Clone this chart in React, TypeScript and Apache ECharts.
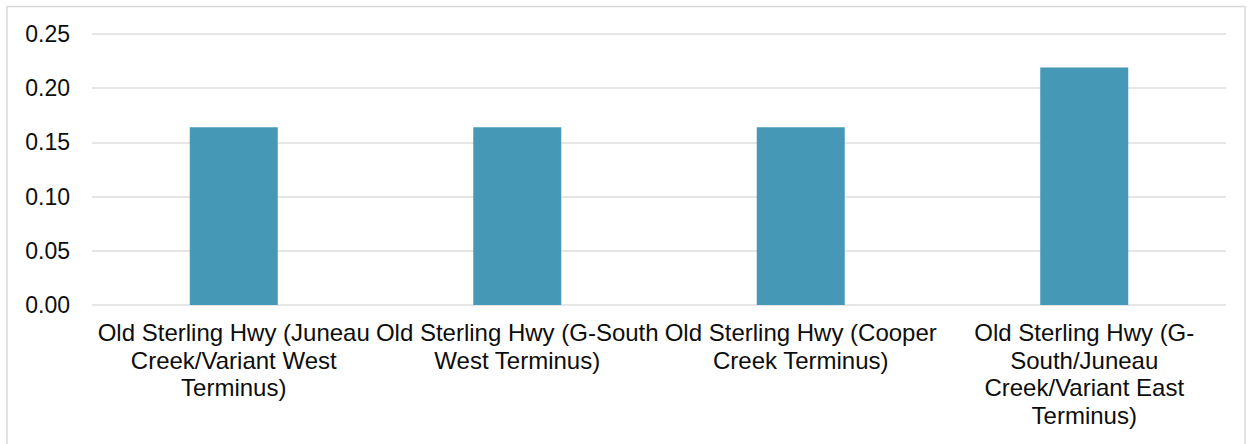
import React, { useEffect, useRef } from "react";
import * as echarts from "echarts";

// Category labels, pre-wrapped onto the lines they are drawn on
const categories: string[] = [
  "Old Sterling Hwy (Juneau\nCreek/Variant West\nTerminus)",
  "Old Sterling Hwy (G-South\nWest Terminus)",
  "Old Sterling Hwy (Cooper\nCreek Terminus)",
  "Old Sterling Hwy (G-\nSouth/Juneau\nCreek/Variant East\nTerminus)",
];

const values: number[] = [0.164, 0.164, 0.164, 0.219];

const yTicks = { min: 0, max: 0.25, interval: 0.05 };

const BAR_COLOR = "#4599b7";
const GRID_COLOR = "#dedede";
const TEXT_COLOR = "#0d0d0d";
const FONT = "'Liberation Sans', Arial, sans-serif";

export default function App() {
  const ref = useRef<HTMLDivElement>(null);

  useEffect(() => {
    if (!ref.current) return;
    const chart = echarts.init(ref.current, null, { renderer: "svg" });
    chart.setOption({
      animation: false,
      backgroundColor: "#ffffff",
      textStyle: { fontFamily: FONT },
      graphic: [
        {
          type: "rect",
          shape: { x: 7, y: 6.5, width: 1238, height: 470 },
          style: { fill: "none", stroke: "#d9d9d9", lineWidth: 1.5 },
          silent: true,
        },
      ],
      grid: { left: 92, right: 27, top: 34, bottom: 139, containLabel: false },
      xAxis: {
        type: "category",
        data: categories,
        axisLine: { show: false },
        axisTick: { show: false },
        axisLabel: {
          interval: 0,
          color: TEXT_COLOR,
          fontSize: 24,
          lineHeight: 27.5,
          margin: 14,
          fontFamily: FONT,
          align: "center",
        },
      },
      yAxis: {
        type: "value",
        min: yTicks.min,
        max: yTicks.max,
        interval: yTicks.interval,
        axisLine: { show: false },
        axisTick: { show: false },
        axisLabel: {
          color: TEXT_COLOR,
          fontSize: 23,
          margin: 22,
          fontFamily: FONT,
          formatter: (v: number) => v.toFixed(2),
        },
        splitLine: { lineStyle: { color: GRID_COLOR, width: 1.5 } },
      },
      series: [
        {
          type: "bar",
          data: values,
          barWidth: 88,
          itemStyle: { color: BAR_COLOR },
        },
      ],
    });
    return () => chart.dispose();
  }, []);

  return (
    <div
      ref={ref}
      style={{ position: "absolute", left: 0, top: 0, width: 1253, height: 444 }}
    />
  );
}
